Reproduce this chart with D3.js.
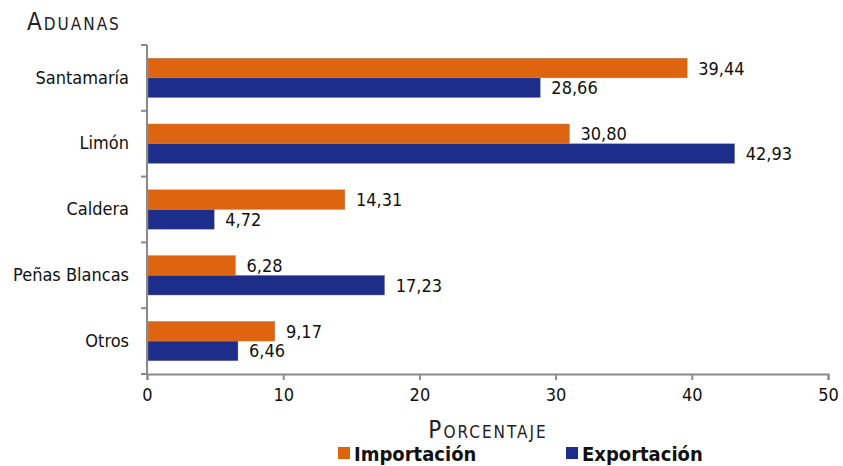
<!DOCTYPE html>
<html>
<head>
<meta charset="utf-8">
<script src="https://cdn.jsdelivr.net/npm/d3@7"></script>
<style>
  body { margin: 0; background: #fff; }
  text { font-family: "DejaVu Sans Condensed", "DejaVu Sans", sans-serif; font-stretch: condensed; }
</style>
</head>
<body>
<div id="chart"></div>
<script>
const aduanas = ["Santamaría", "Limón", "Caldera", "Peñas Blancas", "Otros"]
const importacion = [39.44, 30.80, 14.31, 6.28, 9.17]
const exportacion = [28.66, 42.93, 4.72, 17.23, 6.46]
const series = ["Importación", "Exportación"]
const colors = ["#DE6410", "#1C2E8A"]
const xTicks = [0, 10, 20, 30, 40, 50]

const width = 843, height = 466
const margin = { top: 45, right: 15, bottom: 92, left: 147 }
const innerW = 828 - margin.left
const innerH = 374 - margin.top

const fmt = v => d3.format(".2f")(v).replace(".", ",")

const svg = d3.select("#chart").append("svg")
  .attr("width", width)
  .attr("height", height)

const g = svg.append("g")
  .attr("transform", "translate(" + margin.left + "," + margin.top + ")")

const x = d3.scaleLinear().domain([0, 50]).range([0, innerW])
const y = d3.scaleBand().domain(aduanas).range([0, innerH]).paddingInner(0.4).paddingOuter(0.2)
const ySub = d3.scaleBand().domain(series).range([0, y.bandwidth()])

const rows = aduanas.map((a, i) => ({ name: a, values: [importacion[i], exportacion[i]] }))

// barras
const grp = g.selectAll("g.row").data(rows).enter().append("g")
  .attr("class", "row")
  .attr("transform", d => "translate(0," + y(d.name) + ")")

grp.selectAll("rect").data(d => d.values.map((v, j) => ({ s: series[j], v: v, j: j })))
  .enter().append("rect")
  .attr("x", x(0) + 1)
  .attr("y", d => ySub(d.s))
  .attr("width", d => x(d.v) - x(0) + 2)
  .attr("height", ySub.bandwidth())
  .attr("fill", d => colors[d.j])
  .attr("stroke", "#9a9a9a")
  .attr("stroke-width", 0.4)

grp.selectAll("text.val").data(d => d.values.map((v, j) => ({ s: series[j], v: v, j: j })))
  .enter().append("text")
  .attr("class", "val")
  .attr("x", d => x(d.v) + 14)
  .attr("y", d => ySub(d.s) + ySub.bandwidth() / 2)
  .attr("dy", "0.36em")
  .attr("font-size", 18)
  .attr("fill", "#111")
  .text(d => fmt(d.v))

// eje X
const xAxis = d3.axisBottom(x).tickValues(xTicks).tickSize(6).tickSizeOuter(6)
const gx = g.append("g").attr("transform", "translate(0," + innerH + ")").call(xAxis)
gx.select(".domain").attr("stroke", "#8a8a8a").attr("stroke-width", 2)
gx.selectAll(".tick line").attr("stroke", "#8a8a8a").attr("stroke-width", 2)
gx.selectAll(".tick text").attr("font-size", 18).attr("fill", "#111").attr("dy", "1em")
gx.attr("font-family", null)

// eje Y
const yAxis = d3.axisLeft(y).tickSize(0).tickPadding(18)
const gy = g.append("g").call(yAxis)
gy.select(".domain").remove()
gy.selectAll(".tick text").attr("font-size", 18).attr("fill", "#111")
gy.attr("font-family", null)
g.append("line")
  .attr("x1", 0).attr("x2", 0).attr("y1", 0).attr("y2", innerH)
  .attr("stroke", "#8a8a8a").attr("stroke-width", 2)
g.selectAll("line.ytick").data([0].concat(aduanas.map((a, i) => (i + 1) * innerH / aduanas.length)))
  .enter().append("line")
  .attr("class", "ytick")
  .attr("x1", -6).attr("x2", 0)
  .attr("y1", d => d).attr("y2", d => d)
  .attr("stroke", "#8a8a8a").attr("stroke-width", 2)

// titulos
svg.append("text")
  .attr("x", 27).attr("y", 30)
  .attr("font-size", 24)
  .attr("font-variant", "small-caps")
  .attr("letter-spacing", 2)
  .attr("fill", "#222")
  .text("Aduanas")

svg.append("text")
  .attr("x", 488).attr("y", 438)
  .attr("text-anchor", "middle")
  .attr("font-size", 24)
  .attr("font-variant", "small-caps")
  .attr("letter-spacing", 2)
  .attr("fill", "#222")
  .text("Porcentaje")

// leyenda
const legX = [338, 566]
const leg = svg.selectAll("g.leg").data(series).enter().append("g")
  .attr("class", "leg")
  .attr("transform", (d, i) => "translate(" + legX[i] + ",445)")
leg.append("rect").attr("x", 0).attr("y", 2).attr("width", 12).attr("height", 12)
  .attr("fill", (d, i) => colors[i])
leg.append("text").attr("x", 16).attr("y", 8).attr("dy", "0.38em")
  .attr("font-size", 20).attr("font-weight", "bold").attr("fill", "#111")
  .text(d => d)
</script>
</body>
</html>
